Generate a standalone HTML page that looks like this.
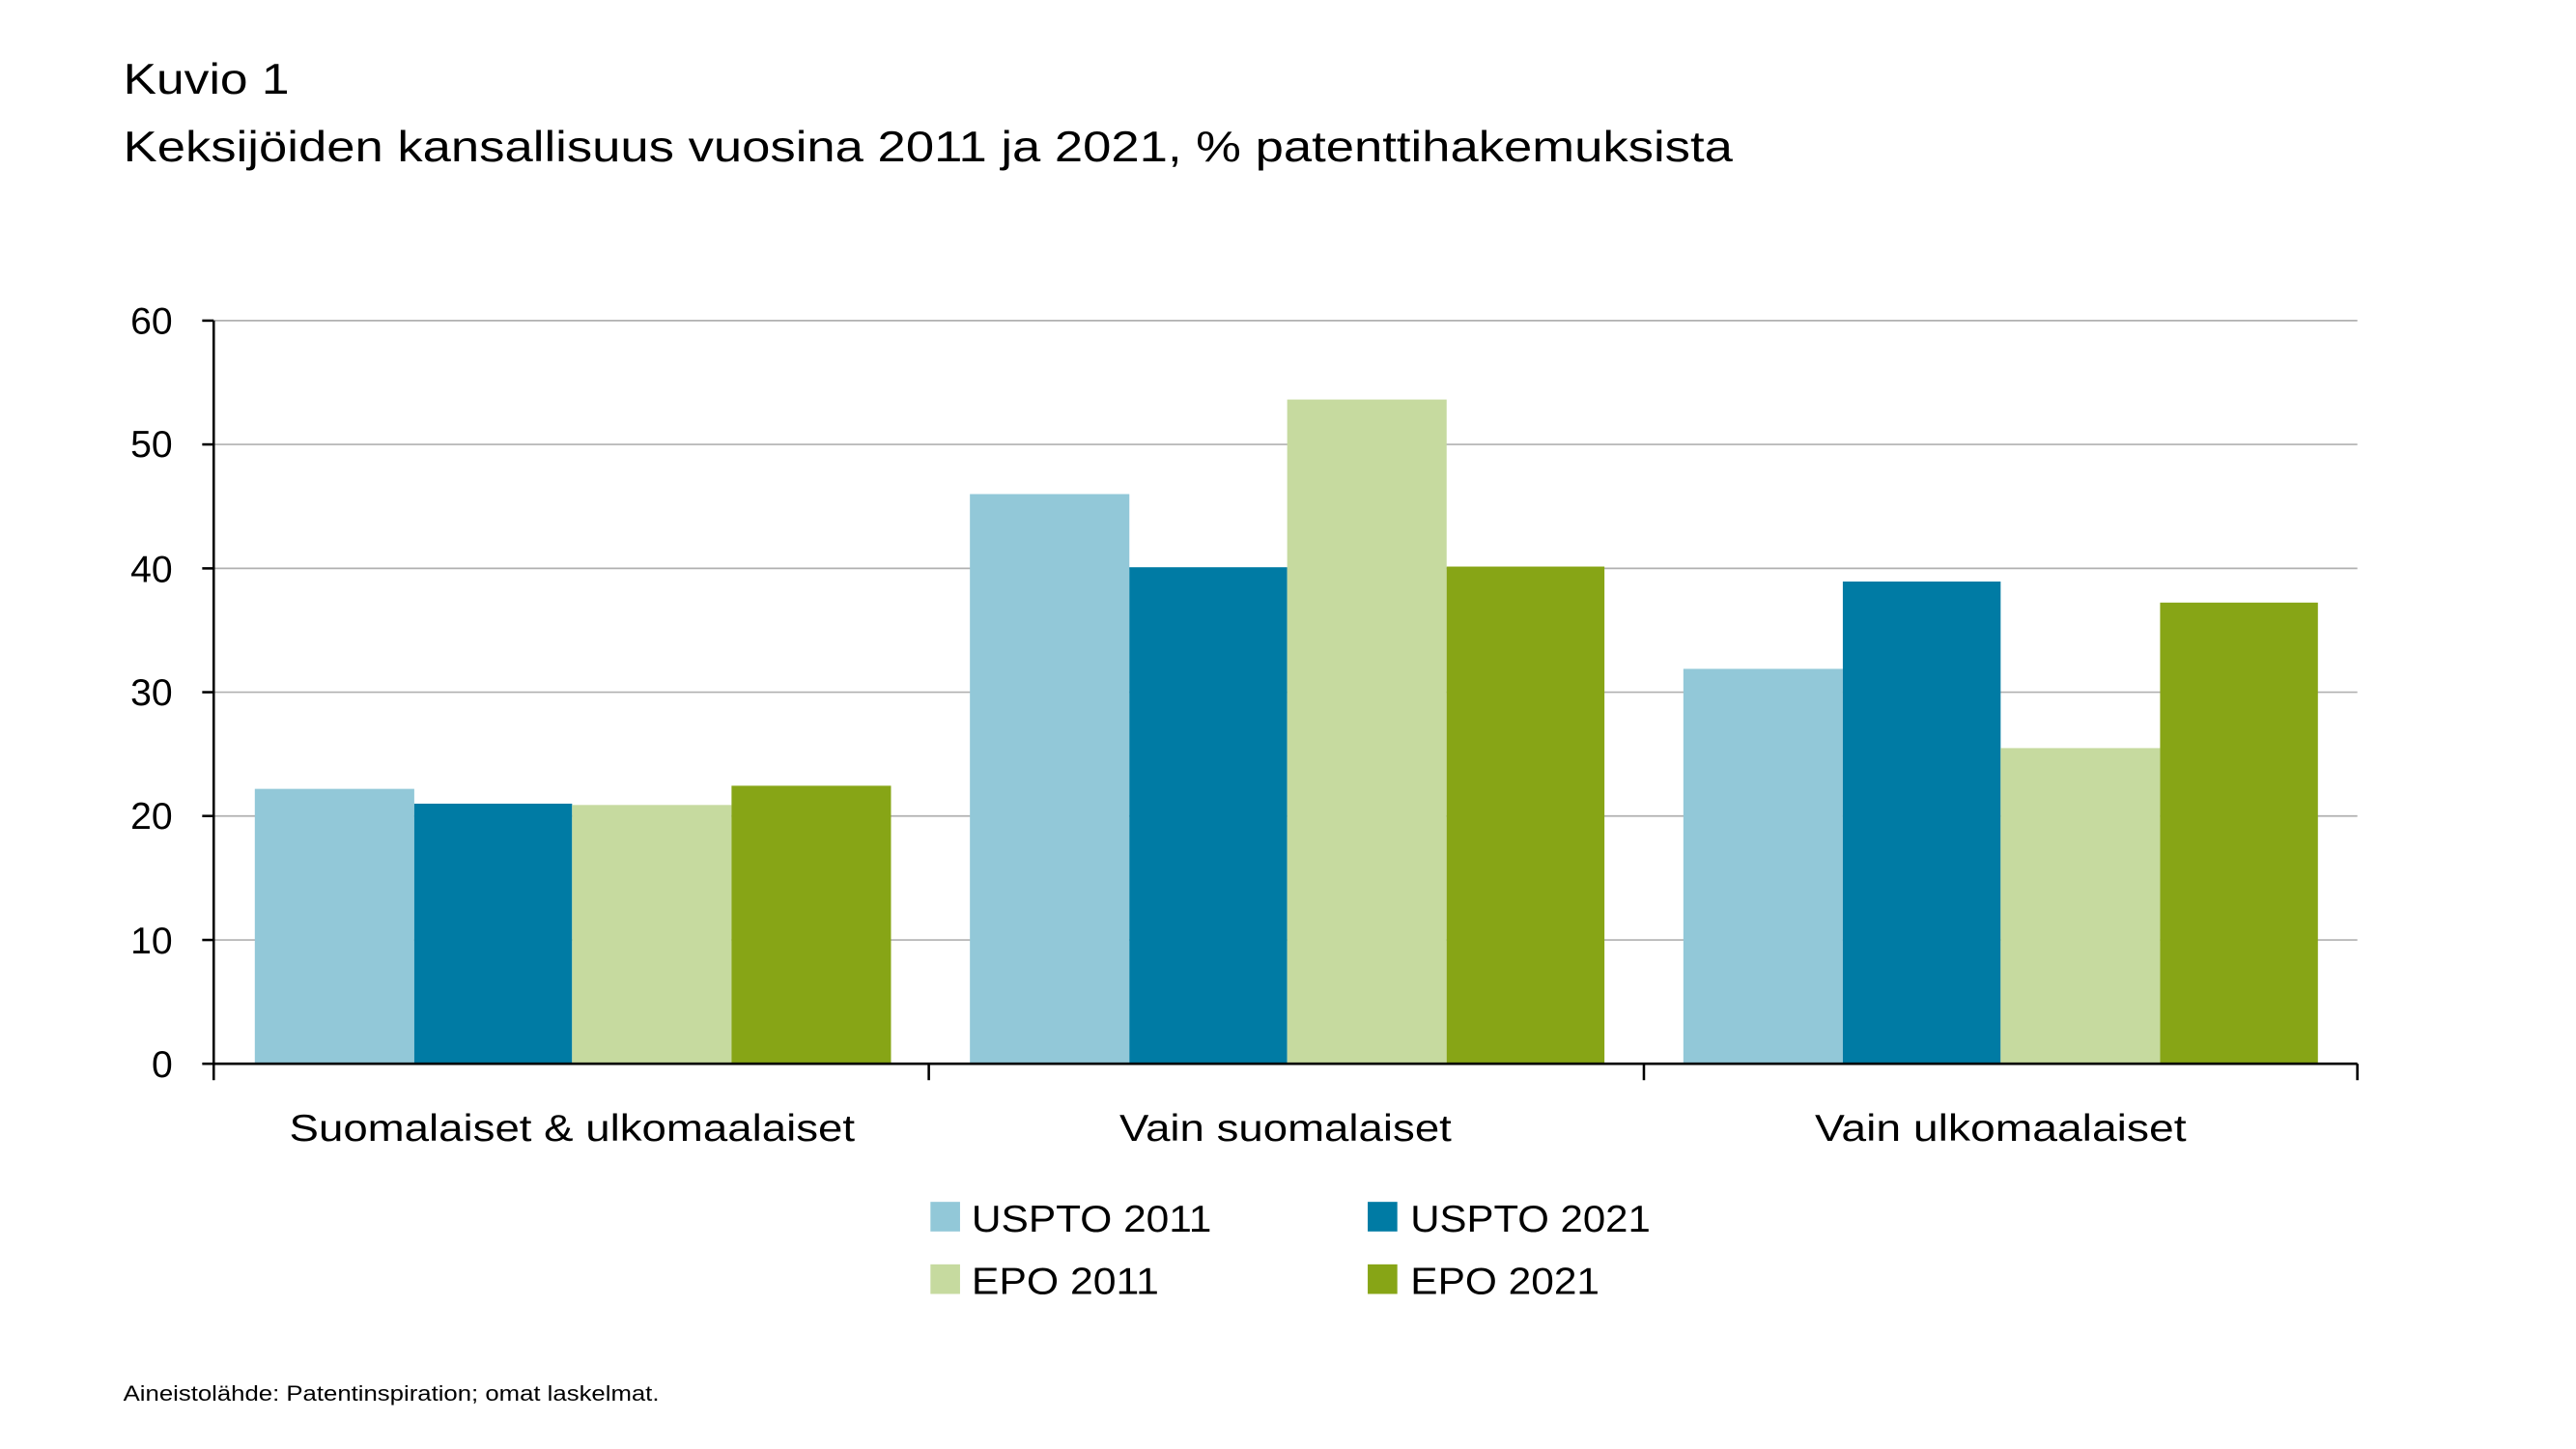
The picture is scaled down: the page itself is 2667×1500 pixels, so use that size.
<!DOCTYPE html>
<html><head><meta charset="utf-8"><style>html,body{margin:0;padding:0;background:#fff}svg{display:block}</style></head>
<body>
<svg width="2667" height="1500" viewBox="0 0 1567 881.3" xmlns="http://www.w3.org/2000/svg" font-family="'Liberation Sans', sans-serif">
<rect width="1567" height="882" fill="#fff"/>
<text x="75" y="57" font-size="26" fill="#000" textLength="101" lengthAdjust="spacingAndGlyphs">Kuvio 1</text>
<text x="75" y="98" font-size="26" fill="#000" textLength="979" lengthAdjust="spacingAndGlyphs">Keksijöiden kansallisuus vuosina 2011 ja 2021, % patenttihakemuksista</text>
<g stroke="#b0b0b0" stroke-width="1">
<line x1="130" y1="195" x2="1434" y2="195"/>
<line x1="130" y1="270.3" x2="1434" y2="270.3"/>
<line x1="130" y1="345.7" x2="1434" y2="345.7"/>
<line x1="130" y1="421" x2="1434" y2="421"/>
<line x1="130" y1="496.3" x2="1434" y2="496.3"/>
<line x1="130" y1="571.7" x2="1434" y2="571.7"/>
</g>
<g>
<rect x="155" y="479.8" width="97" height="167.2" fill="#92c8d8"/>
<rect x="252" y="488.8" width="96" height="158.2" fill="#007ba4"/>
<rect x="348" y="489.6" width="97" height="157.4" fill="#c6da9f"/>
<rect x="445" y="477.9" width="97" height="169.1" fill="#87a516"/>
<rect x="590" y="300.5" width="97" height="346.5" fill="#92c8d8"/>
<rect x="687" y="345" width="96" height="302" fill="#007ba4"/>
<rect x="783" y="243" width="97" height="404" fill="#c6da9f"/>
<rect x="880" y="344.6" width="96" height="302.4" fill="#87a516"/>
<rect x="1024" y="406.8" width="97" height="240.2" fill="#92c8d8"/>
<rect x="1121" y="353.7" width="96" height="293.3" fill="#007ba4"/>
<rect x="1217" y="455" width="97" height="192" fill="#c6da9f"/>
<rect x="1314" y="366.5" width="96" height="280.5" fill="#87a516"/>
</g>
<g stroke="#000" stroke-width="1.5">
<line x1="130" y1="195" x2="130" y2="648"/>
<line x1="130" y1="647" x2="1434" y2="647"/>
<line x1="123" y1="195" x2="130" y2="195"/>
<line x1="123" y1="270.3" x2="130" y2="270.3"/>
<line x1="123" y1="345.7" x2="130" y2="345.7"/>
<line x1="123" y1="421" x2="130" y2="421"/>
<line x1="123" y1="496.3" x2="130" y2="496.3"/>
<line x1="123" y1="571.7" x2="130" y2="571.7"/>
<line x1="123" y1="647" x2="130" y2="647"/>
<line x1="130" y1="647" x2="130" y2="657"/>
<line x1="565" y1="647" x2="565" y2="657"/>
<line x1="1000" y1="647" x2="1000" y2="657"/>
<line x1="1434" y1="647" x2="1434" y2="657"/>
</g>
<g font-size="23" text-anchor="end" fill="#000">
<text x="105" y="203">60</text>
<text x="105" y="278">50</text>
<text x="105" y="354">40</text>
<text x="105" y="429">30</text>
<text x="105" y="504">20</text>
<text x="105" y="580">10</text>
<text x="105" y="655">0</text>
</g>
<g font-size="23" text-anchor="middle" fill="#000">
<text x="348" y="694" textLength="344" lengthAdjust="spacingAndGlyphs">Suomalaiset &amp; ulkomaalaiset</text>
<text x="782" y="694" textLength="202" lengthAdjust="spacingAndGlyphs">Vain suomalaiset</text>
<text x="1217" y="694" textLength="226" lengthAdjust="spacingAndGlyphs">Vain ulkomaalaiset</text>
</g>
<rect x="566" y="731" width="18" height="18" fill="#92c8d8"/>
<rect x="832" y="731" width="18" height="18" fill="#007ba4"/>
<rect x="566" y="769" width="18" height="18" fill="#c6da9f"/>
<rect x="832" y="769" width="18" height="18" fill="#87a516"/>
<g font-size="23" fill="#000">
<text x="591" y="749" textLength="146" lengthAdjust="spacingAndGlyphs">USPTO 2011</text>
<text x="858" y="749" textLength="146" lengthAdjust="spacingAndGlyphs">USPTO 2021</text>
<text x="591" y="787" textLength="114" lengthAdjust="spacingAndGlyphs">EPO 2011</text>
<text x="858" y="787" textLength="115" lengthAdjust="spacingAndGlyphs">EPO 2021</text>
</g>
<text x="75" y="852" font-size="13" fill="#000" textLength="326" lengthAdjust="spacingAndGlyphs">Aineistolähde: Patentinspiration; omat laskelmat.</text>
</svg>
</body></html>
